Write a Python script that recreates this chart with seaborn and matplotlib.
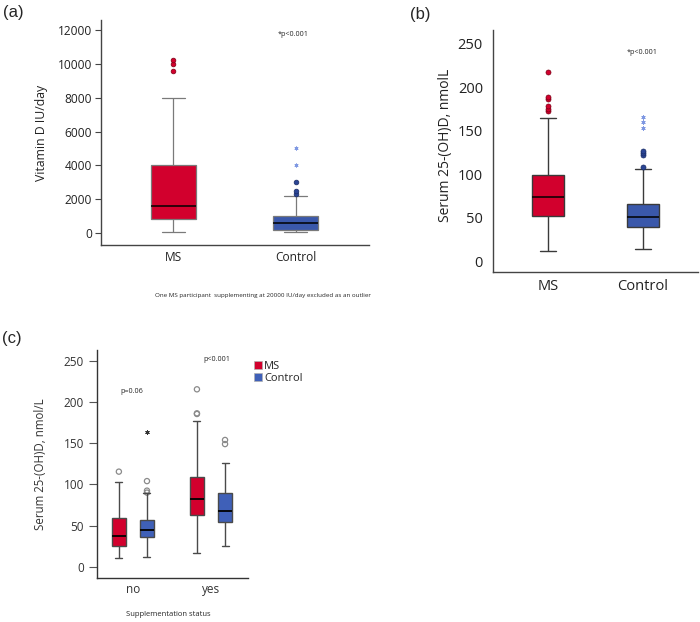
import numpy as np
import pandas as pd
import matplotlib
matplotlib.use("Agg")
import matplotlib.pyplot as plt
import seaborn as sns
from matplotlib.patches import Patch

# ---------------- data ----------------
groups = ["MS", "Control"]
status = ["no", "yes"]

# five-number summaries: [low whisker, Q1, median, Q3, high whisker]
a_ms_summary = [80, 800, 1600, 4000, 8000]
a_ctrl_summary = [50, 200, 600, 1000, 2200]
a_ms_outliers = [9600, 10000, 10200]
a_ctrl_outliers = [2300, 2500, 3000]
a_ctrl_extremes = [4000, 5000]

b_ms_summary = [12.6, 52.3, 73.7, 99.6, 164.9]
b_ctrl_summary = [14.9, 39.7, 50.8, 66.4, 106.0]
b_ms_outliers = [172.5, 175, 178, 186, 188, 217]
b_ctrl_outliers = [108.8, 122, 124, 127]
b_ctrl_extremes = [153, 159.5, 166]

c_ms_summary_no = [10.1, 25.1, 37.7, 58.8, 102.9]
c_ctrl_summary_no = [12.2, 35.7, 44.6, 56.7, 89.1]
c_ms_summary_yes = [16.2, 62.8, 81.8, 109.4, 177.5]
c_ctrl_summary_yes = [25.5, 54.7, 68.1, 89.1, 125.6]
c_ms_outliers_no = [115.5]
c_ctrl_outliers_no = [90, 92.4, 104]
c_ctrl_extremes_no = [164]
c_ms_outliers_yes = [185.6, 186.4, 215.6]
c_ctrl_outliers_yes = [149, 154]

a_yticks = [0, 2000, 4000, 6000, 8000, 10000, 12000]
bc_yticks = [0, 50, 100, 150, 200, 250]

# ---------------- style ----------------
RED = "#d2002d"
BLUE = "#3a58ab"
BLUE_C = "#3f60b8"
DARK_BLUE = "#2b4595"
LIGHT_BLUE = "#7f98e2"
W, H = 700, 622

sns.set_theme(style="white")
plt.rcParams["font.family"] = ["Open Sans", "DejaVu Sans"]

fig = plt.figure(figsize=(W / 100, H / 100), dpi=100)


def px_axes(left, right, top, bottom):
    return fig.add_axes([left / W, 1 - bottom / H, (right - left) / W, (bottom - top) / H])


def ftext(x, y, s, **kw):
    fig.text(x / W, 1 - y / H, s, ha=kw.pop("ha", "center"), va=kw.pop("va", "center"), **kw)


pal = {"MS": RED, "Control": BLUE}

# ================= panel (a) =================
ax_a = px_axes(101, 369, 20, 245)
df_a = pd.DataFrame({"group": ["MS"] * 5 + ["Control"] * 5,
                     "value": a_ms_summary + a_ctrl_summary})
sns.boxplot(data=df_a, x="group", y="value", order=groups, hue="group", hue_order=groups,
            palette=pal, saturation=1, width=0.37, whis=(0, 100), showfliers=False,
            linewidth=0.9, linecolor="#7a7a7a", medianprops={"color": "black", "linewidth": 1.1},
            legend=False, ax=ax_a)
sns.stripplot(x=["MS"] * len(a_ms_outliers), y=a_ms_outliers, order=groups, jitter=False,
              color=RED, size=3.4, linewidth=0.5, edgecolor="#7a0015", ax=ax_a)
sns.stripplot(x=["Control"] * len(a_ctrl_outliers), y=a_ctrl_outliers, order=groups, jitter=False,
              color=DARK_BLUE, size=3.4, linewidth=0.5, edgecolor="#1a2d66", ax=ax_a)
sns.stripplot(x=["Control"] * len(a_ctrl_extremes), y=a_ctrl_extremes, order=groups, jitter=False,
              color=LIGHT_BLUE, size=2.4, marker=(6, 2, 0), linewidth=0.6, edgecolor=LIGHT_BLUE, ax=ax_a)
ax_a.set_xlim(-0.594, 1.602)
ax_a.set_ylim(-709, 12591)
ax_a.set_yticks(a_yticks)
ax_a.set_xlabel("")
ax_a.set_ylabel("Vitamin D IU/day", fontsize=8.8, color="#222222")
ax_a.yaxis.set_label_coords(-0.198, 0.5)
ax_a.tick_params(axis="y", left=True, length=4.3, width=0.8, color="#444444", pad=2,
                 labelsize=8.6, labelcolor="#222222")
ax_a.tick_params(axis="x", bottom=False, length=0, pad=4, labelsize=8.6, labelcolor="#222222")
sns.despine(ax=ax_a)
for s in ("left", "bottom"):
    ax_a.spines[s].set_color("#444444")
    ax_a.spines[s].set_linewidth(1)

ftext(13, 12, "(a)", fontsize=12, family=["Liberation Sans", "DejaVu Sans"])
ftext(293, 35, "*p<0.001", fontsize=5.2)
ftext(263, 295, "One MS participant  supplementing at 20000 IU/day excluded as an outlier", fontsize=4.5)

# ================= panel (b) =================
ax_b = px_axes(492.7, 698, 30, 271.7)
df_b = pd.DataFrame({"group": ["MS"] * 5 + ["Control"] * 5,
                     "value": b_ms_summary + b_ctrl_summary})
sns.boxplot(data=df_b, x="group", y="value", order=groups, hue="group", hue_order=groups,
            palette=pal, saturation=1, width=0.343, whis=(0, 100), showfliers=False,
            linewidth=1.0, linecolor="#3a3a3a", medianprops={"color": "black", "linewidth": 1.1},
            legend=False, ax=ax_b)
sns.stripplot(x=["MS"] * len(b_ms_outliers), y=b_ms_outliers, order=groups, jitter=False,
              color=RED, size=3.6, linewidth=0.5, edgecolor="#7a0015", ax=ax_b)
sns.stripplot(x=["Control"] * len(b_ctrl_outliers), y=b_ctrl_outliers, order=groups, jitter=False,
              color=DARK_BLUE, size=3.6, linewidth=0.5, edgecolor="#1a2d66", ax=ax_b)
sns.stripplot(x=["Control"] * len(b_ctrl_extremes), y=b_ctrl_extremes, order=groups, jitter=False,
              color=LIGHT_BLUE, size=2.6, marker=(6, 2, 0), linewidth=0.6, edgecolor=LIGHT_BLUE, ax=ax_b)
ax_b.set_xlim(-0.582, 1.58)
ax_b.set_ylim(-11.5, 265.3)
ax_b.set_yticks(bc_yticks)
ax_b.set_xlabel("")
ax_b.set_ylabel("Serum 25-(OH)D, nmolL", fontsize=10, color="#222222")
ax_b.yaxis.set_label_coords(-0.193, 0.524)
ax_b.tick_params(axis="y", left=False, length=0, pad=7, labelsize=10.5, labelcolor="#222222")
ax_b.tick_params(axis="x", bottom=False, length=0, pad=5, labelsize=10.5, labelcolor="#222222")
sns.despine(ax=ax_b)
for s in ("left", "bottom"):
    ax_b.spines[s].set_color("#444444")
    ax_b.spines[s].set_linewidth(1)

ftext(420, 14, "(b)", fontsize=12, family=["Liberation Sans", "DejaVu Sans"])
ftext(641.7, 52.7, "*p<0.001", fontsize=5.2)

# ================= panel (c) =================
ax_c = px_axes(96.7, 248.3, 350, 578.3)
c_rows = []
for st, g, vals in [("no", "MS", c_ms_summary_no), ("no", "Control", c_ctrl_summary_no),
                    ("yes", "MS", c_ms_summary_yes), ("yes", "Control", c_ctrl_summary_yes)]:
    for v in vals:
        c_rows.append((st, g, v))
df_c = pd.DataFrame(c_rows, columns=["status", "group", "value"])
pal_c = {"MS": RED, "Control": BLUE_C}
C_WIDTH = 0.72
sns.boxplot(data=df_c, x="status", y="value", hue="group", order=status, hue_order=groups,
            palette=pal_c, saturation=1, width=C_WIDTH, gap=0.5, whis=(0, 100), showfliers=False,
            linewidth=1.0, linecolor="#4a4a4a", medianprops={"color": "black", "linewidth": 1.3},
            legend=False, ax=ax_c)
DODGE = C_WIDTH / 4
for pos, g, vals in [(0, "MS", c_ms_outliers_no), (0, "Control", c_ctrl_outliers_no),
                     (1, "MS", c_ms_outliers_yes), (1, "Control", c_ctrl_outliers_yes)]:
    off = -DODGE if g == "MS" else DODGE
    sns.scatterplot(x=np.full(len(vals), pos + off), y=vals, marker="o", s=14,
                    facecolor="none", edgecolor="#8a8a8a", linewidth=0.9, ax=ax_c, legend=False)
sns.scatterplot(x=np.full(len(c_ctrl_extremes_no), 0 + DODGE), y=c_ctrl_extremes_no,
                marker=(6, 2, 0), s=7, color="#333333", edgecolor="#333333", linewidth=0.7,
                ax=ax_c, legend=False)
ax_c.set_xlim(-0.464, 1.478)
ax_c.set_ylim(-14.2, 263.4)
ax_c.set_yticks(bc_yticks)
ax_c.set_xticks([0, 1])
ax_c.set_xticklabels(status)
ax_c.set_xlabel("")
ax_c.set_ylabel("Serum 25-(OH)D, nmol/L", fontsize=8.3, color="#333333")
ax_c.yaxis.set_label_coords(-0.33, 0.5)
ax_c.tick_params(axis="y", left=True, length=5.8, width=0.8, color="#555555", pad=3.5,
                 labelsize=8.5, labelcolor="#333333")
ax_c.tick_params(axis="x", bottom=False, length=0, pad=3.5, labelsize=8.5, labelcolor="#333333")
sns.despine(ax=ax_c)
for s in ("left", "bottom"):
    ax_c.spines[s].set_color("#333333")
    ax_c.spines[s].set_linewidth(1)

handles = [Patch(facecolor=RED, edgecolor="#b0b0b0", linewidth=0.5, label="MS"),
           Patch(facecolor=BLUE_C, edgecolor="#b0b0b0", linewidth=0.5, label="Control")]
fig.legend(handles=handles, loc="upper left", bbox_to_anchor=(254 / W, 1 - 361 / H),
           frameon=False, fontsize=8, handlelength=0.75, handleheight=0.75,
           handletextpad=0.15, labelspacing=0.1, borderpad=0, borderaxespad=0)

ftext(12, 338, "(c)", fontsize=12, family=["Liberation Sans", "DejaVu Sans"])
ftext(131.7, 391.7, "p=0.06", fontsize=5.2)
ftext(216.7, 359.3, "p<0.001", fontsize=5.2)
ftext(168, 614, "Supplementation status", fontsize=5.5)

fig.savefig("out.png", dpi=100)
